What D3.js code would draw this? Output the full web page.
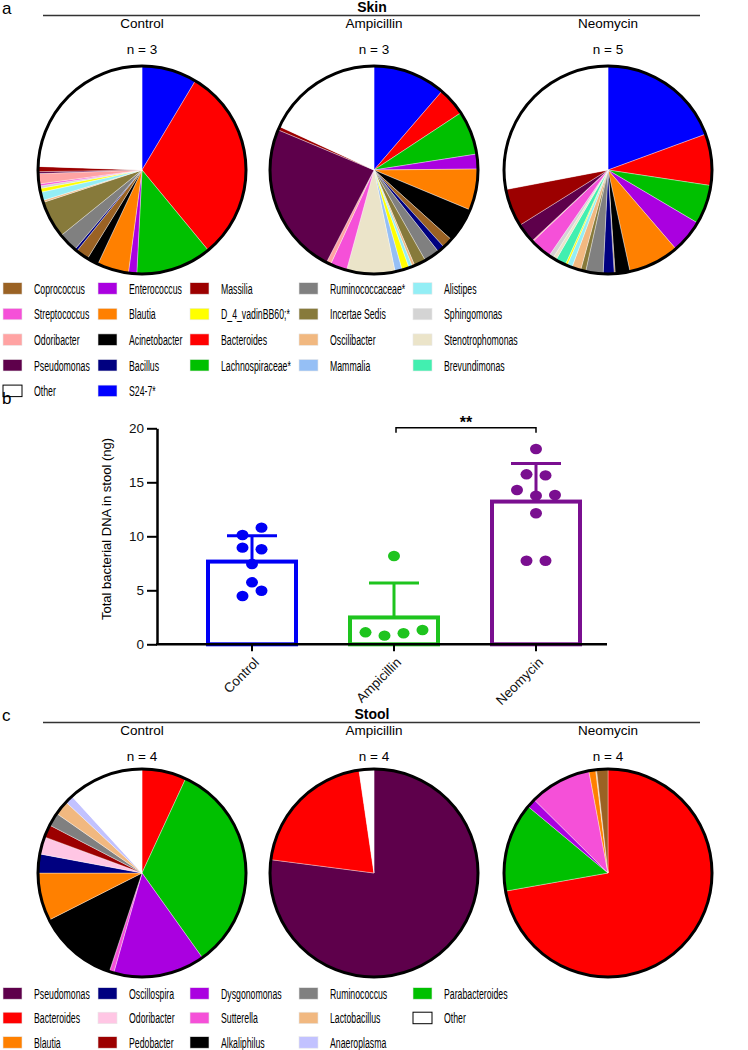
<!DOCTYPE html>
<html><head><meta charset="utf-8">
<script src="https://cdn.jsdelivr.net/npm/d3@7"></script>
<style>body{margin:0;background:#fff} svg{display:block;font-family:"Liberation Sans",Arial,Helvetica,sans-serif}</style>
</head><body><svg id="chart" width="748" height="1050"></svg>
<script>
// ---------------- data ----------------
const groups = ["Control", "Ampicillin", "Neomycin"];
const skinN = [3, 3, 5];
const stoolN = [4, 4, 4];

// slice order (clockwise from 12 o'clock)
const skinTaxa = ["S24-7*", "Bacteroides", "Lachnospiraceae*", "Enterococcus", "Blautia", "Acinetobacter",
  "Coprococcus", "Bacillus", "Ruminococcaceae*", "Incertae Sedis", "Oscilibacter", "Alistipes",
  "D_4_vadinBB60;*", "Mammalia", "Brevundimonas", "Stenotrophomonas", "Sphingomonas", "Streptococcus",
  "Odoribacter", "Pseudomonas", "Massilia", "Other"];
const skinControl    = [8.6, 30.5, 11.8, 1.3, 4.9, 1.8, 2.0, 0.4, 3.0, 5.8, 0.3, 1.3, 0.6, 0, 0, 0, 0.4, 0.3, 1.6, 0.3, 0.8, 24.5];
const skinAmpicillin = [11.3, 4.4, 6.8, 2.3, 6.4, 5.4, 1.6, 1.1, 2.4, 1.8, 0.4, 0.55, 1.1, 1.1, 0, 7.5, 0, 2.6, 0.7, 23.7, 0.55, 18.1];
const skinNeomycin   = [19.4, 8.0, 6.1, 5.2, 7.9, 2.3, 0.15, 1.7, 2.7, 0.8, 1.4, 0.8, 0.3, 0, 1.6, 0.55, 0.7, 3.3, 0.15, 3.05, 5.9, 28.0];

const stoolTaxa = ["Pseudomonas", "Bacteroides", "Parabacteroides", "Dysgonomonas", "Sutterella", "Alkaliphilus",
  "Blautia", "Oscillospira", "Odoribacter", "Pedobacter", "Ruminococcus", "Lactobacillus", "Anaeroplasma",
  "Coprococcus", "Other"];
const stoolControl    = [0, 6.9, 33.25, 14.25, 0.7, 12.45, 7.45, 2.95, 2.7, 1.97, 2.08, 2.25, 1.28, 0, 11.78];
const stoolAmpicillin = [77.05, 20.64, 0, 0, 0, 0, 0, 0, 0, 0, 0, 0, 0, 0, 2.31];
const stoolNeomycin   = [0, 72.2, 13.83, 1.39, 9.61, 0, 1.06, 0, 0, 0, 0, 0.14, 0, 1.75, 0];

const skinLegend = ["Coprococcus", "Enterococcus", "Massilia", "Ruminococcaceae*", "Alistipes",
  "Streptococcus", "Blautia", "D_4_vadinBB60;*", "Incertae Sedis", "Sphingomonas",
  "Odoribacter", "Acinetobacter", "Bacteroides", "Oscilibacter", "Stenotrophomonas",
  "Pseudomonas", "Bacillus", "Lachnospiraceae*", "Mammalia", "Brevundimonas",
  "Other", "S24-7*"];
const stoolLegend = ["Pseudomonas", "Oscillospira", "Dysgonomonas", "Ruminococcus", "Parabacteroides",
  "Bacteroides", "Odoribacter", "Sutterella", "Lactobacillus", "Other",
  "Blautia", "Pedobacter", "Alkaliphilus", "Anaeroplasma"];

// total bacterial DNA in stool (ng)
const dnaControl    = [10.12, 10.8, 8.95, 8.8, 7.43, 5.74, 4.47, 4.96];
const dnaAmpicillin = [8.18, 1.11, 0.8, 1.02, 1.32];
const dnaNeomycin   = [18.08, 15.74, 15.64, 14.29, 13.76, 13.82, 12.13, 7.74, 7.74];
const yTicks = [0, 5, 10, 15, 20];
const sigLabel = "**";

// ---------------- styles ----------------
const skinColor = {
  "Coprococcus": "#9a6224", "Enterococcus": "#aa00e0", "Massilia": "#9c0000", "Ruminococcaceae*": "#808080",
  "Alistipes": "#93eef5", "Streptococcus": "#f550d8", "Blautia": "#ff8000", "D_4_vadinBB60;*": "#ffff00",
  "Incertae Sedis": "#877a3b", "Sphingomonas": "#d4d4d4", "Odoribacter": "#ffa3a3", "Acinetobacter": "#000000",
  "Bacteroides": "#ff0000", "Oscilibacter": "#f1b880", "Stenotrophomonas": "#ebe4c9", "Pseudomonas": "#5e004b",
  "Bacillus": "#000080", "Lachnospiraceae*": "#00c000", "Mammalia": "#95bff5", "Brevundimonas": "#42efb0",
  "Other": "#ffffff", "S24-7*": "#0000ff"
};
const stoolColor = {
  "Pseudomonas": "#5e004b", "Oscillospira": "#000080", "Dysgonomonas": "#aa00e0", "Ruminococcus": "#808080",
  "Parabacteroides": "#00c000", "Bacteroides": "#ff0000", "Odoribacter": "#ffc6e4", "Sutterella": "#f550d8",
  "Lactobacillus": "#f1b880", "Other": "#ffffff", "Blautia": "#ff8000", "Pedobacter": "#9c0000",
  "Alkaliphilus": "#000000", "Anaeroplasma": "#c2c2ff", "Coprococcus": "#9a6224"
};
const barColor = {"Control": "#0000f5", "Ampicillin": "#1ec41e", "Neomycin": "#7a0f90"};

const svg = d3.select("#chart");
const pieX = [142, 374, 608];
const R = 104;

function header(yTop, title, nList, letter) {
  svg.append("text").attr("x", 2).attr("y", yTop + 2).attr("font-size", 17).text(letter);
  svg.append("line").attr("x1", 43).attr("x2", 700).attr("y1", yTop + 3.5).attr("y2", yTop + 3.5)
    .attr("stroke", "#333").attr("stroke-width", 1.3);
  svg.append("text").attr("x", 372).attr("y", yTop).attr("text-anchor", "middle")
    .attr("font-size", 14).attr("font-weight", "bold").text(title);
  groups.forEach((g, i) => {
    svg.append("text").attr("x", pieX[i]).attr("y", yTop + 16).attr("text-anchor", "middle")
      .attr("font-size", 13.5).text(g);
    svg.append("text").attr("x", pieX[i]).attr("y", yTop + 42).attr("text-anchor", "middle")
      .attr("font-size", 13.5).text("n = " + nList[i]);
  });
}

function drawPie(cx, cy, taxa, values, colors) {
  const data = taxa.map((t, i) => ({t, v: values[i]})).filter(d => d.v > 0);
  const pie = d3.pie().sort(null).value(d => d.v);
  const arc = d3.arc().innerRadius(0).outerRadius(R);
  const g = svg.append("g").attr("transform", `translate(${cx},${cy})`);
  g.selectAll("path").data(pie(data)).join("path")
    .attr("d", arc).attr("fill", d => colors[d.data.t])
    .attr("stroke", "#fff").attr("stroke-width", 0.5).attr("stroke-opacity", 0.7);
  g.append("circle").attr("r", R).attr("fill", "none").attr("stroke", "#000").attr("stroke-width", 3);
}

function drawLegend(items, colors, y0, rowH) {
  const colX = [3, 98, 190, 299, 413];
  items.forEach((name, i) => {
    const c = i % 5, r = Math.floor(i / 5);
    const y = y0 + r * rowH;
    svg.append("rect").attr("x", colX[c]).attr("y", y - 5.8).attr("width", 19).attr("height", 11.5)
      .attr("fill", colors[name])
      .attr("stroke", name === "Other" ? "#000" : "#e8e8e8").attr("stroke-width", name === "Other" ? 1 : 0.6);
    svg.append("text").attr("transform", `translate(${colX[c] + 31},${y + 5.3}) scale(0.59,1)`)
      .attr("font-size", 14.8).text(name);
  });
}

// ---------- panel a: skin ----------
header(12, "Skin", skinN, "a");
[skinControl, skinAmpicillin, skinNeomycin].forEach((vals, i) => drawPie(pieX[i], 170, skinTaxa, vals, skinColor));
drawLegend(skinLegend, skinColor, 288.5, 25.6);

// ---------- panel b: bar chart ----------
svg.append("text").attr("x", 2).attr("y", 404).attr("font-size", 17).text("b");
const y = d3.scaleLinear().domain([0, 20]).range([644.3, 428.3]);
const x = d3.scaleBand().domain(groups).range([181, 607]).padding(0);
const bw = 88;
const dnaSets = [dnaControl, dnaAmpicillin, dnaNeomycin];
const stats = groups.map((g, i) => ({g, mean: d3.mean(dnaSets[i]), sd: d3.deviation(dnaSets[i])}));

const bars = svg.append("g");
stats.forEach(s => {
  const cx = x(s.g) + x.bandwidth() / 2;
  bars.append("rect").attr("x", cx - bw / 2).attr("y", y(s.mean)).attr("width", bw)
    .attr("height", y(0) - y(s.mean)).attr("fill", "#fff").attr("stroke", barColor[s.g]).attr("stroke-width", 4);
  bars.append("line").attr("x1", cx).attr("x2", cx).attr("y1", y(s.mean)).attr("y2", y(s.mean + s.sd))
    .attr("stroke", barColor[s.g]).attr("stroke-width", 3);
  bars.append("line").attr("x1", cx - 25).attr("x2", cx + 25).attr("y1", y(s.mean + s.sd)).attr("y2", y(s.mean + s.sd))
    .attr("stroke", barColor[s.g]).attr("stroke-width", 3);
});

// dots: simple symmetric swarm of points that are close in value
groups.forEach((g, gi) => {
  const cx = x(g) + x.bandwidth() / 2;
  const vals = dnaSets[gi];
  const clusters = [];
  vals.forEach(v => {
    const last = clusters[clusters.length - 1];
    if (last && Math.abs(y(last[0]) - y(v)) < 8) last.push(v); else clusters.push([v]);
  });
  clusters.forEach(cl => {
    cl.forEach((v, k) => {
      svg.append("ellipse").attr("cx", cx + (k - (cl.length - 1) / 2) * 19).attr("cy", y(v))
        .attr("rx", 6).attr("ry", 5.2).attr("fill", barColor[g]);
    });
  });
});

// axes
const yAxis = svg.append("g").attr("transform", "translate(157,0)")
  .call(d3.axisLeft(y).tickValues(yTicks).tickSize(10).tickSizeOuter(0).tickPadding(3));
yAxis.select(".domain").attr("stroke-width", 2.5);
yAxis.selectAll(".tick line").attr("stroke-width", 2);
yAxis.selectAll(".tick text").attr("font-size", 13.5).attr("font-family", "Liberation Sans, Arial, sans-serif").attr("fill", "#111");

const xAxis = svg.append("g").attr("transform", `translate(0,${y(0)})`)
  .call(d3.axisBottom(x).tickSize(7).tickSizeOuter(0));
xAxis.select(".domain").remove();
xAxis.selectAll(".tick line").attr("stroke-width", 2);
xAxis.selectAll(".tick text").attr("font-size", 13.5).attr("font-family", "Liberation Sans, Arial, sans-serif")
  .attr("fill", "#111").attr("text-anchor", "end").attr("dy", null).attr("y", 0)
  .attr("transform", "translate(8,19) rotate(-45)");
svg.append("line").attr("x1", 156).attr("x2", 607).attr("y1", y(0)).attr("y2", y(0))
  .attr("stroke", "#000").attr("stroke-width", 2.5);

svg.append("text").attr("transform", `translate(111,529) rotate(-90)`).attr("text-anchor", "middle")
  .attr("font-size", 13).text("Total bacterial DNA in stool (ng)");

// significance bracket Ampicillin vs Neomycin
const bx1 = x("Ampicillin") + x.bandwidth() / 2 + 2, bx2 = x("Neomycin") + x.bandwidth() / 2;
const by = y(20) - 0.6;
svg.append("path").attr("d", `M${bx1},${by + 5}V${by}H${bx2}V${by + 5}`).attr("fill", "none")
  .attr("stroke", "#000").attr("stroke-width", 1.5);
svg.append("text").attr("x", (bx1 + bx2) / 2).attr("y", by + 0.5).attr("text-anchor", "middle")
  .attr("font-size", 16).attr("font-weight", "bold").text(sigLabel);

// ---------- panel c: stool ----------
header(719, "Stool", stoolN, "c");
[stoolControl, stoolAmpicillin, stoolNeomycin].forEach((vals, i) => drawPie(pieX[i], 873, stoolTaxa, vals, stoolColor));
drawLegend(stoolLegend, stoolColor, 993.5, 24.5);
</script></body></html>
